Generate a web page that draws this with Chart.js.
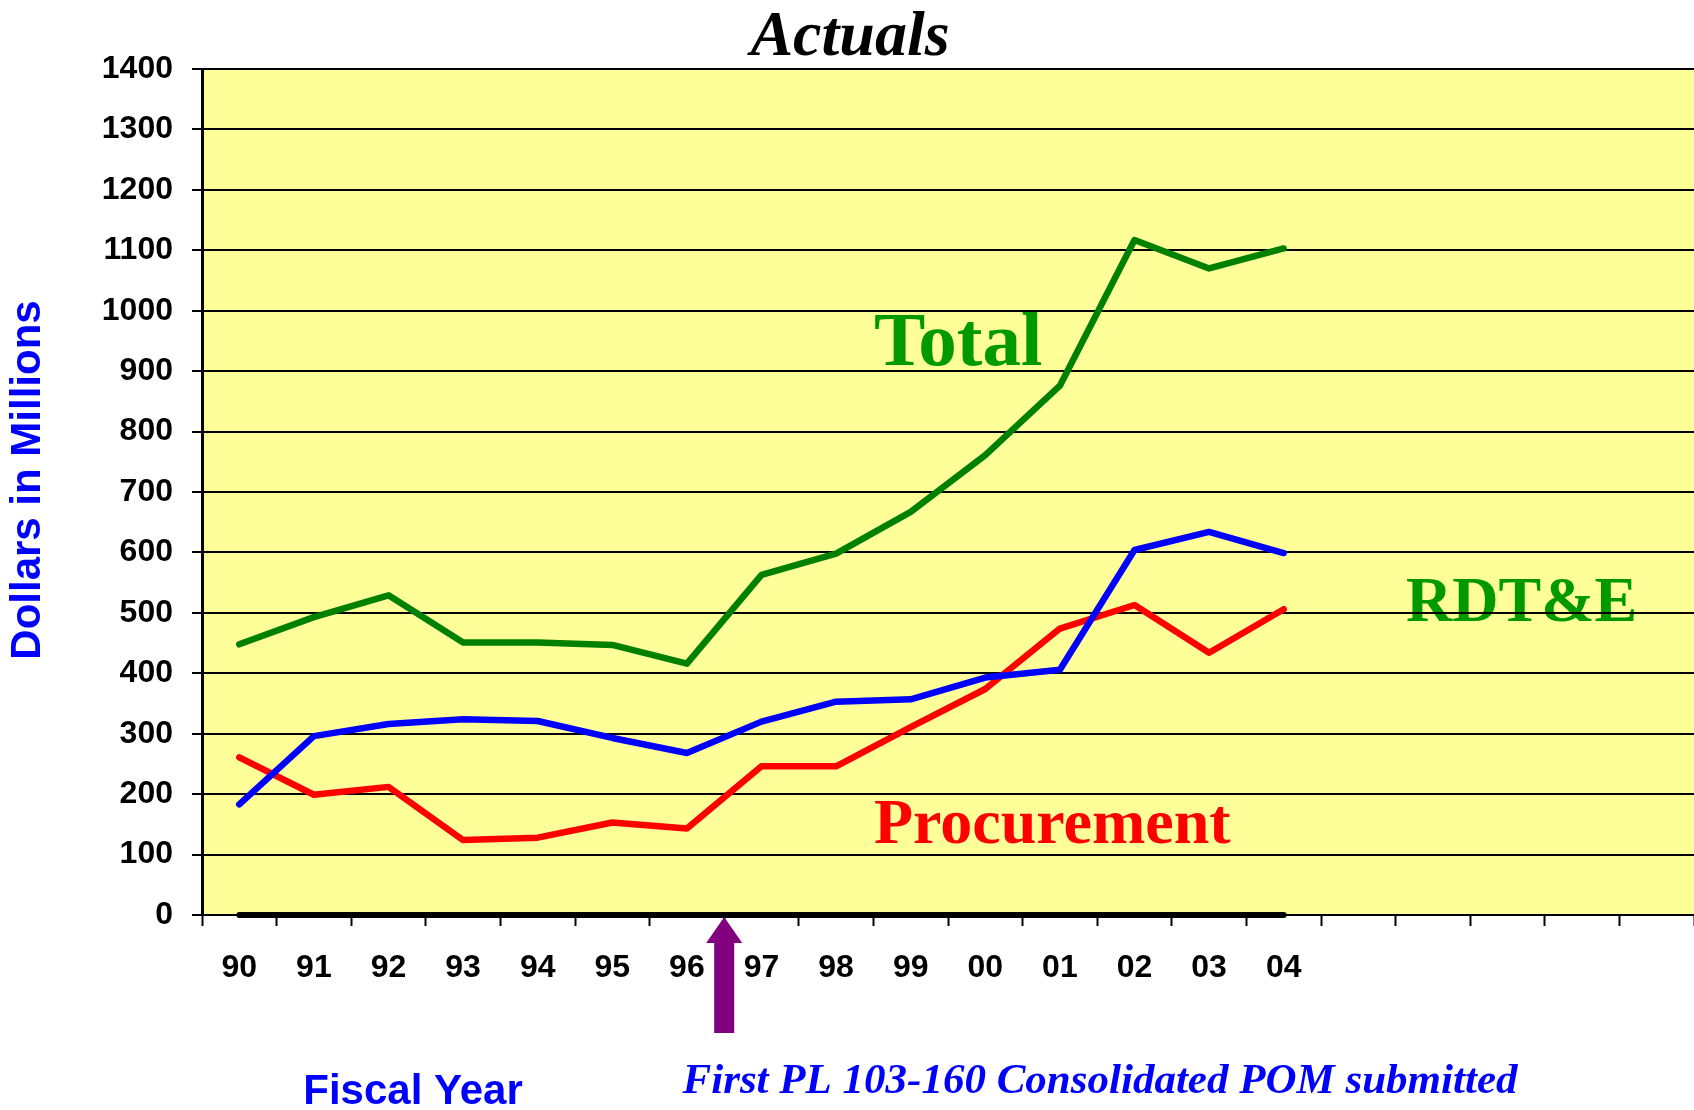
<!DOCTYPE html>
<html>
<head>
<meta charset="utf-8">
<script src="https://cdn.jsdelivr.net/npm/chart.js@4.4.1/dist/chart.umd.min.js"></script>
<style>
  html, body { margin: 0; padding: 0; background: #ffffff; }
  #wrap { width: 1694px; height: 1110px; position: relative; }
</style>
</head>
<body>
<div id="wrap"><canvas id="c"></canvas></div>
<script>
// ---- data ----
const fiscalYears = ['90','91','92','93','94','95','96','97','98','99','00','01','02','03','04','','','','',''];
const rdteValues = [183, 296, 316, 324, 321, 293, 268, 320, 353, 357, 393, 406, 604, 634, 599];
const procurementValues = [261, 199, 212, 124, 128, 153, 143, 246, 246, 311, 374, 474, 513, 434, 506];
const totalValues = [448, 493, 529, 451, 451, 447, 416, 563, 598, 667, 761, 876, 1117, 1070, 1103];
const baselineValues = [0, 0, 0, 0, 0, 0, 0, 0, 0, 0, 0, 0, 0, 0, 0];
const yTickValues = [0, 100, 200, 300, 400, 500, 600, 700, 800, 900, 1000, 1100, 1200, 1300, 1400];

const SANS = "'Liberation Sans', Arial, sans-serif";
const SERIF = "'Liberation Serif', 'Times New Roman', serif";

const decorPlugin = {
  id: 'decor',
  beforeDraw(chart) {
    const { ctx, chartArea: a } = chart;
    ctx.save();
    ctx.fillStyle = '#FFFF99';
    ctx.fillRect(a.left, a.top, a.right - a.left, a.bottom - a.top);
    // in-plot labels (drawn under grid lines)
    ctx.textAlign = 'left';
    ctx.textBaseline = 'alphabetic';
    ctx.font = 'bold 77px ' + SERIF;
    ctx.fillStyle = '#009900';
    ctx.fillText('Total', 874, 365);
    ctx.font = 'bold 64px ' + SERIF;
    ctx.fillText('RDT&E', 1406, 621);
    ctx.fillStyle = '#FF0000';
    ctx.fillText('Procurement', 874, 843);
    ctx.restore();
  },
  afterDraw(chart) {
    const { ctx } = chart;
    const xs = chart.scales.x, ys = chart.scales.y;
    ctx.save();
    // title
    ctx.fillStyle = '#000000';
    ctx.textAlign = 'center';
    ctx.textBaseline = 'alphabetic';
    ctx.font = 'italic bold 64px ' + SERIF;
    ctx.fillText('Actuals', 850, 55);
    // y-axis title
    ctx.save();
    ctx.translate(28, 480);
    ctx.rotate(-Math.PI / 2);
    ctx.fillStyle = '#0000FF';
    ctx.font = 'bold 42px ' + SANS;
    ctx.textAlign = 'center';
    ctx.textBaseline = 'middle';
    ctx.fillText('Dollars in Millions', 0, 0);
    ctx.restore();
    // x-axis title
    ctx.fillStyle = '#0000FF';
    ctx.font = 'bold 42px ' + SANS;
    ctx.textAlign = 'center';
    ctx.fillText('Fiscal Year', 413, 1104);
    // note
    ctx.font = 'italic bold 43px ' + SERIF;
    ctx.fillText('First PL 103-160 Consolidated POM submitted', 1100, 1093);
    // arrow between FY96 and FY97
    const ax = (xs.getPixelForValue(6) + xs.getPixelForValue(7)) / 2;
    const tip = ys.getPixelForValue(0) + 2;
    ctx.fillStyle = '#800080';
    ctx.beginPath();
    ctx.moveTo(ax, tip);
    ctx.lineTo(ax + 18, tip + 26);
    ctx.lineTo(ax + 10, tip + 26);
    ctx.lineTo(ax + 10, tip + 116);
    ctx.lineTo(ax - 10, tip + 116);
    ctx.lineTo(ax - 10, tip + 26);
    ctx.lineTo(ax - 18, tip + 26);
    ctx.closePath();
    ctx.fill();
    ctx.restore();
  }
};

new Chart(document.getElementById('c'), {
  type: 'line',
  data: {
    labels: fiscalYears,
    datasets: [
      { label: 'RDT&E', data: rdteValues, borderColor: '#0000FF', borderWidth: 6.5 },
      { label: 'Procurement', data: procurementValues, borderColor: '#FF0000', borderWidth: 6.5 },
      { label: 'Total', data: totalValues, borderColor: '#008000', borderWidth: 6.5 },
      { label: 'Baseline', data: baselineValues, borderColor: '#000000', borderWidth: 6, clip: false }
    ]
  },
  options: {
    responsive: true,
    maintainAspectRatio: false,
    animation: false,
    devicePixelRatio: 1,
    layout: { padding: { top: 69, left: 0, right: 0, bottom: 0 } },
    elements: {
      point: { radius: 0, hoverRadius: 0 },
      line: { tension: 0, borderCapStyle: 'round', borderJoinStyle: 'round', fill: false }
    },
    plugins: { legend: { display: false }, tooltip: { enabled: false }, title: { display: false } },
    scales: {
      x: {
        type: 'category',
        offset: true,
        afterFit(scale) { scale.height = 195; },
        grid: {
          offset: true,
          drawOnChartArea: false,
          drawTicks: true,
          tickLength: 11,
          tickWidth: 2,
          tickColor: '#000000'
        },
        border: { display: true, color: '#000000', width: 2 },
        ticks: {
          autoSkip: false,
          maxRotation: 0,
          padding: 23,
          color: '#000000',
          font: { family: SANS, size: 32, weight: 'bold' }
        }
      },
      y: {
        min: 0,
        max: 1400,
        afterFit(scale) { scale.width = 202; },
        afterBuildTicks(scale) { scale.ticks = yTickValues.map(v => ({ value: v })); },
        grid: {
          color: '#000000',
          lineWidth: 2,
          drawTicks: true,
          tickLength: 10,
          tickWidth: 2,
          tickColor: '#000000'
        },
        border: { display: true, color: '#000000', width: 3 },
        ticks: {
          padding: 19,
          color: '#000000',
          callback: (v) => String(v),
          font: { family: SANS, size: 32, weight: 'bold' }
        }
      }
    }
  },
  plugins: [decorPlugin]
});
</script>
</body>
</html>
